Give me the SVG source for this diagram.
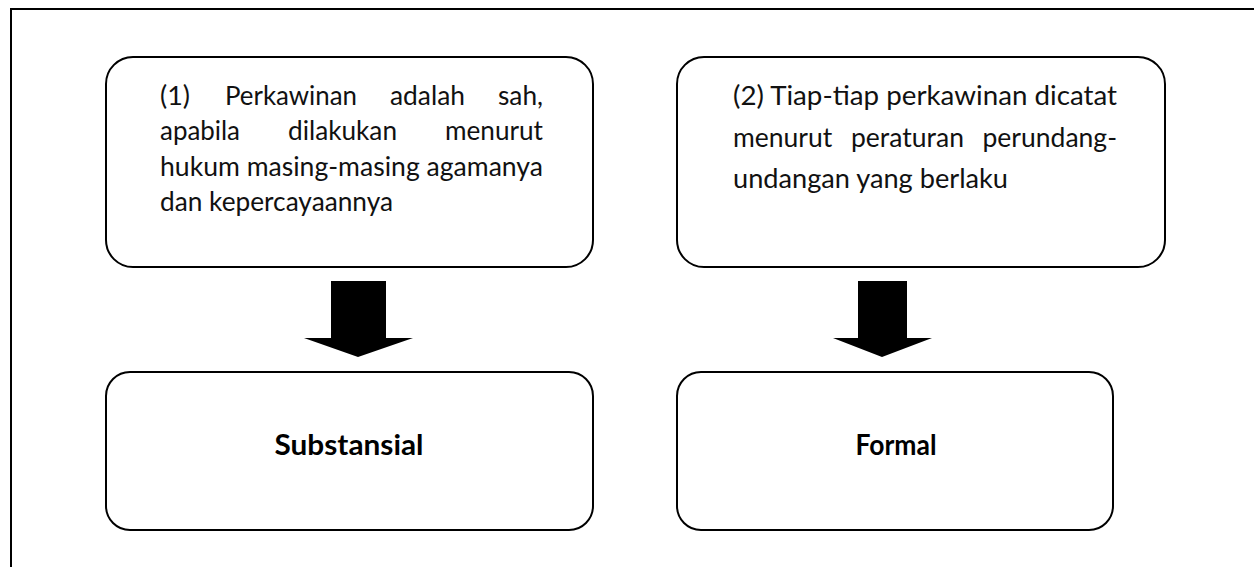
<svg xmlns="http://www.w3.org/2000/svg" width="1254" height="567" viewBox="0 0 1254 567">
<style>
.frame{fill:none;stroke:#000;stroke-width:2}
.box{fill:#fff;stroke:#000;stroke-width:2}
.t{font-family:Lato,"Liberation Sans",sans-serif;font-size:26.5px;fill:#111}
.e{text-anchor:end}
.b{font-family:Lato,"Liberation Sans",sans-serif;font-size:29px;font-weight:bold;fill:#000;text-anchor:middle}
.arrow{fill:#000}
</style>
<rect width="1254" height="567" fill="#fff"/>
<path class="frame" d="M11,568 V9 H1256"/>
<g id="node-pasal1">
<rect class="box" x="106" y="57" width="487" height="210" rx="27" ry="27"/>
<text class="t" x="160" y="104.5" textLength="30" lengthAdjust="spacingAndGlyphs">(1)</text>
<text class="t" x="225" y="104.5" textLength="132" lengthAdjust="spacingAndGlyphs">Perkawinan</text>
<text class="t" x="390" y="104.5" textLength="75" lengthAdjust="spacingAndGlyphs">adalah</text>
<text class="t" x="498" y="104.5" textLength="45" lengthAdjust="spacingAndGlyphs">sah,</text>
<text class="t" x="160" y="140" textLength="80" lengthAdjust="spacingAndGlyphs">apabila</text>
<text class="t" x="288" y="140" textLength="109" lengthAdjust="spacingAndGlyphs">dilakukan</text>
<text class="t" x="445" y="140" textLength="98" lengthAdjust="spacingAndGlyphs">menurut</text>
<text class="t" x="160" y="175.5" textLength="383" lengthAdjust="spacingAndGlyphs">hukum masing-masing agamanya</text>
<text class="t" x="160" y="211" textLength="233" lengthAdjust="spacingAndGlyphs">dan kepercayaannya</text>
</g>
<g id="node-pasal2">
<rect class="box" x="677" y="57" width="488" height="210" rx="27" ry="27"/>
<text class="t" x="733" y="105" textLength="384" lengthAdjust="spacingAndGlyphs">(2) Tiap-tiap perkawinan dicatat</text>
<text class="t" x="733" y="146.5">menurut</text>
<text class="t" x="851" y="146.5">peraturan</text>
<text class="t e" x="1117" y="146.5">perundang-</text>
<text class="t" x="733" y="188" textLength="275" lengthAdjust="spacingAndGlyphs">undangan yang berlaku</text>
</g>
<g id="node-substansial">
<rect class="box" x="106" y="372" width="487" height="158" rx="24" ry="24"/>
<text class="b" x="349" y="455" textLength="149" lengthAdjust="spacingAndGlyphs">Substansial</text>
</g>
<g id="node-formal">
<rect class="box" x="677" y="372" width="436" height="158" rx="24" ry="24"/>
<text class="b" x="896" y="455" textLength="81" lengthAdjust="spacingAndGlyphs">Formal</text>
</g>
<g id="connectors">
<polygon class="arrow" points="331,281 386,281 386,338 413,338 358,357 304,338 331,338"/>
<polygon class="arrow" points="858,281 907,281 907,338 932,338 882,357 833,338 858,338"/>
</g>
</svg>
